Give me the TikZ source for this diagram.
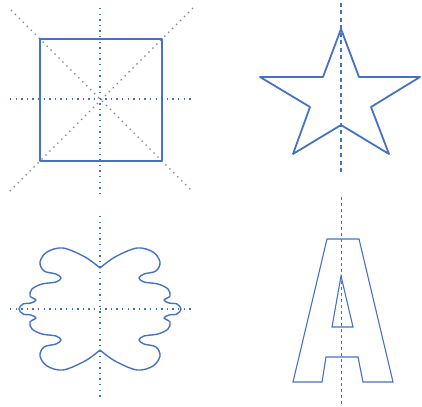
\documentclass[tikz,border=0pt]{standalone}
\usetikzlibrary{positioning,calc}
\definecolor{figblue}{RGB}{68,114,196}
\definecolor{guidegray}{RGB}{125,135,155}
\newcommand{\blobhalf}{(0,-41) (15,-52) (37,-61) (53,-57) (60,-47) (56,-38) (44,-35) (39,-31) (44,-27) (58,-25) (68,-20) (70,-13) (64,-9) (69,-6) (77,-5) (81,0) (77,5) (69,6) (64,9) (70,13) (68,20) (58,25) (44,27) (39,31) (44,35) (56,38) (60,47) (53,57) (37,61) (15,52) (0,41)}
\begin{document}
\begin{tikzpicture}[x=1pt,y=-1pt,
        outline/.style={draw=figblue,line width=1.8pt,line join=round},
        thinline/.style={draw=figblue,line width=1.1pt,line join=miter},
        dotaxis/.style={draw=figblue,line width=1.4pt,dash pattern=on 1.4pt off 4.2pt},
        dotdiag/.style={draw=guidegray,line width=1.4pt,dash pattern=on 1.4pt off 4.2pt},
        dashaxis/.style={draw=figblue,line width=1.2pt,dash pattern=on 4pt off 3.5pt}]
  \useasboundingbox (0,0) rectangle (422,406);
  % square with its axes
  \coordinate (sq) at (101,100);
  \draw[dotdiag] ($(sq)+(-90,-90)$) -- ($(sq)+(92,92)$);
  \draw[dotdiag] ($(sq)+(92,-92)$) -- ($(sq)+(-92,92)$);
  \draw[dotaxis] (100,8) -- (100,195);
  \draw[dotaxis] (10,99) -- (192,99);
  \draw[outline] (40,39) rectangle (162,161);
  % star
  \draw[dashaxis] (341,3) -- (341,172);
  \draw[outline] (341,29) -- (359,77) -- (420,77) -- (371,107) -- (389,154)
    -- (341,125) -- (293,154) -- (310,107) -- (260,77) -- (323,77) -- cycle;
  % blob
  \coordinate (bl) at (100,309);
  \draw[dotaxis] (100,216) -- (100,400);
  \draw[dotaxis] (10,309) -- (192,309);
  \draw[outline,line width=1.4pt,shift={(bl)}] plot[smooth,tension=0.55] coordinates {\blobhalf};
  \draw[outline,line width=1.4pt,shift={(bl)},xscale=-1] plot[smooth,tension=0.55] coordinates {\blobhalf};
  % letter A
  \draw[dashaxis,line width=1pt,dash pattern=on 3pt off 3pt] (341,197) -- (341,405);
  \draw[thinline] (327,239) -- (359,239) -- (393,382) -- (363,382) -- (358,357)
    -- (326,357) -- (322,382) -- (293,382) -- cycle;
  \draw[thinline] (341,276) -- (353,327) -- (332,327) -- cycle;
\end{tikzpicture}
\end{document}
